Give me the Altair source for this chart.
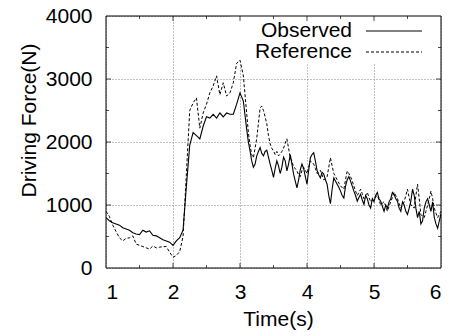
import altair as alt
import pandas as pd

FONT = "Liberation Sans"

time_s = [1.00, 1.05, 1.10, 1.15, 1.20, 1.25, 1.30, 1.35, 1.40, 1.45,
          1.50, 1.55, 1.60, 1.65, 1.70, 1.75, 1.80, 1.85, 1.90, 1.95,
          2.00, 2.05, 2.10, 2.15, 2.20, 2.25, 2.30, 2.35, 2.40, 2.45,
          2.50, 2.55, 2.60, 2.65, 2.70, 2.75, 2.80, 2.85, 2.90, 2.95,
          3.00, 3.05,
          3.100, 3.125, 3.150, 3.175, 3.200, 3.225, 3.250, 3.275, 3.300, 3.325,
          3.350, 3.375, 3.400, 3.425, 3.450, 3.475, 3.500, 3.525, 3.550, 3.575,
          3.600, 3.625, 3.650, 3.675, 3.700, 3.725, 3.750, 3.775, 3.800, 3.825,
          3.850, 3.875, 3.900, 3.925, 3.950, 3.975, 4.000, 4.025, 4.050, 4.075,
          4.100, 4.125, 4.150, 4.175, 4.200, 4.225, 4.250, 4.275, 4.300, 4.325,
          4.350, 4.375, 4.400, 4.425, 4.450, 4.475, 4.500, 4.525, 4.550, 4.575,
          4.600, 4.625, 4.650, 4.675, 4.700, 4.725, 4.750, 4.775, 4.800, 4.825,
          4.850, 4.875, 4.900, 4.925, 4.950, 4.975, 5.000, 5.025, 5.050, 5.075,
          5.100, 5.125, 5.150, 5.175, 5.200, 5.225, 5.250, 5.275, 5.300, 5.325,
          5.350, 5.375, 5.400, 5.425, 5.450, 5.475, 5.500, 5.525, 5.550, 5.575,
          5.600, 5.625, 5.650, 5.675, 5.700, 5.725, 5.750, 5.775, 5.800, 5.825,
          5.850, 5.875, 5.900, 5.925, 5.950, 5.975, 6.000]

observed = [800, 750, 720, 700, 680, 640, 620, 600, 560, 540,
            530, 600, 570, 590, 520, 510, 480, 450, 430, 410,
            360, 430, 480, 600, 1300, 1950, 2150, 2100, 2050, 2250,
            2400, 2380, 2440, 2380, 2460, 2400, 2460, 2440, 2440, 2600,
            2780, 2650,
            2200, 2000, 1860, 1700, 1600, 1650, 1780, 1850, 1910, 1820,
            1780, 1850, 1870, 1760, 1650, 1550, 1440, 1580, 1700, 1620,
            1500, 1600, 1760, 1700, 1540, 1650, 1800, 1650, 1490, 1380,
            1270, 1400, 1560, 1650, 1580, 1450, 1330, 1550, 1750, 1800,
            1830, 1700, 1550, 1480, 1430, 1520, 1490, 1400, 1330, 1150,
            1020, 1250, 1430, 1380, 1330, 1280, 1220, 1150, 1110, 1300,
            1400, 1450, 1380, 1300, 1220, 1150, 1060, 1120, 1170, 1080,
            1010, 1150, 1100, 1000, 950, 1100, 1050, 1150, 1200, 1100,
            1060, 980, 900, 1000, 950, 1050, 1100, 1200, 1170, 1100,
            1060, 950, 900, 1050, 1000, 900, 850, 950, 1060, 1250,
            1150, 950, 800, 900, 700, 750, 950, 1050, 1100, 1000,
            900, 1050, 800, 700, 630, 750, 860]

reference = [900, 820, 680, 580, 480, 430, 470, 480, 510, 380,
             360, 340, 320, 300, 350, 320, 330, 340, 340, 250,
             170, 200, 260, 500, 1500, 2500, 2620, 2700, 2220, 2460,
             2600, 2780, 2890, 3050, 2750, 2940, 2730, 2780, 2940, 3250,
             3300, 3050,
             2450, 2150, 1950, 1800, 1750, 1900, 2060, 2300, 2540, 2570,
             2500, 2400, 2290, 2100, 1970, 1900, 1860, 1800, 1850, 1780,
             1810, 1850, 1900, 1980, 2050, 1900, 1750, 1700, 1600, 1580,
             1540, 1480, 1450, 1550, 1600, 1550, 1500, 1600, 1700, 1680,
             1650, 1580, 1500, 1520, 1550, 1480, 1400, 1420, 1450, 1600,
             1750, 1620, 1500, 1450, 1400, 1350, 1300, 1280, 1250, 1400,
             1540, 1500, 1450, 1380, 1300, 1220, 1150, 1200, 1250, 1180,
             1100, 1150, 1200, 1120, 1050, 1080, 1100, 1130, 1150, 1080,
             1000, 1030, 1050, 980, 900, 980, 1050, 1120, 1200, 1150,
             1100, 1020, 950, 1000, 1050, 1150, 1250, 1120, 1000, 980,
             950, 1150, 1330, 1100, 850, 820, 800, 900, 1000, 1100,
             1220, 1100, 950, 870, 800, 850, 900]

series_names = ["Observed", "Reference"]
x_labels = [1, 2, 3, 4, 5, 6]
y_labels = [0, 1000, 2000, 3000, 4000]
major_x = [2, 3, 4, 5]
minor_x = [1.5, 2.5, 3.5, 4.5, 5.5]
major_y = [1000, 2000, 3000]
minor_y = [500, 1500, 2500, 3500]
legend_box_x = [2.85, 6.0]
legend_box_y = [3250, 4000]

W, H = 335, 252

rows = []
for t, o, r in zip(time_s, observed, reference):
    rows.append({"t": t, "force": o, "series": series_names[0]})
    rows.append({"t": t, "force": r, "series": series_names[1]})
df = pd.DataFrame(rows)

xs = alt.Scale(domain=[1, 6], nice=False, zero=False)
ys = alt.Scale(domain=[0, 4000], nice=False)

x_axis = alt.Axis(values=x_labels, title="Time(s)", grid=True, ticks=False, domain=False,
                  labelPadding=13, format="d", titleX=172, titleY=51,
                  titleBaseline="middle", titleAlign="center", titleFontWeight="normal")
y_axis = alt.Axis(values=y_labels, title="Driving Force(N)", grid=True, ticks=False, domain=False,
                  labelPadding=14, format="d", titleX=-77, titleY=104,
                  titleBaseline="middle", titleAlign="center", titleFontWeight="normal")

grid_base = alt.Chart(df).mark_line(opacity=0).encode(
    x=alt.X("t:Q", scale=xs, axis=x_axis),
    y=alt.Y("force:Q", scale=ys, axis=y_axis),
)

box = alt.Chart(pd.DataFrame({"x": [legend_box_x[0]], "x2": [legend_box_x[1]],
                              "y": [legend_box_y[0]], "y2": [legend_box_y[1]]})).mark_rect(
    color="white").encode(
    x=alt.X("x:Q", scale=xs), x2="x2:Q", y=alt.Y("y:Q", scale=ys), y2="y2:Q")

obs_line = alt.Chart(df[df.series == "Observed"]).mark_line(
    color="black", strokeWidth=1.1, clip=True).encode(
    x=alt.X("t:Q", scale=xs), y=alt.Y("force:Q", scale=ys))

ref_line = alt.Chart(df[df.series == "Reference"]).mark_line(
    color="black", strokeWidth=1, strokeDash=[3, 2], clip=True).encode(
    x=alt.X("t:Q", scale=xs), y=alt.Y("force:Q", scale=ys))

def xticks(vals, size, ypos):
    return alt.Chart(pd.DataFrame({"v": vals})).mark_tick(
        color="black", thickness=1, size=size, clip=True, orient="vertical").encode(
        x=alt.X("v:Q", scale=xs), y=alt.value(ypos))

def yticks(vals, size, xpos):
    return alt.Chart(pd.DataFrame({"v": vals})).mark_tick(
        color="black", thickness=1, size=size, clip=True, orient="horizontal").encode(
        y=alt.Y("v:Q", scale=ys), x=alt.value(xpos))

ticks = [xticks(major_x, 10, H), xticks(minor_x, 6, H), xticks(major_x, 10, 0), xticks(minor_x, 6, 0),
         yticks(major_y, 10, 0), yticks(minor_y, 6, 0), yticks(major_y, 10, W), yticks(minor_y, 6, W)]

frame = alt.Chart(pd.DataFrame({"a": [0]})).mark_rect(
    filled=False, stroke="black", strokeWidth=1).encode(
    x=alt.value(0), x2=alt.value(W), y=alt.value(0), y2=alt.value(H))

def legend_entry(label, ypix, dash):
    d = pd.DataFrame({"label": [label]})
    txt = alt.Chart(d).mark_text(align="right", baseline="middle", font=FONT, fontSize=21,
                                 color="black").encode(
        x=alt.value(246), y=alt.value(ypix), text="label:N")
    kw = dict(color="black", strokeWidth=1)
    if dash:
        kw["strokeDash"] = dash
    ln = alt.Chart(d).mark_rule(**kw).encode(x=alt.value(260), x2=alt.value(316), y=alt.value(ypix))
    return [txt, ln]

legend = legend_entry("Observed", 15, None) + legend_entry("Reference", 36, [3, 2])

chart = alt.layer(grid_base, box, ref_line, obs_line, *ticks, frame, *legend).properties(
    width=W, height=H,
    autosize=alt.AutoSizeParams(type="none"),
    padding={"left": 98, "top": 8, "right": 6, "bottom": 65},
).configure_view(stroke=None).configure_axis(
    labelFont=FONT, titleFont=FONT, labelFontSize=21, titleFontSize=21,
    labelColor="black", titleColor="black", titleFontWeight="normal",
    gridColor="#808080", gridDash=[1, 2], gridWidth=1, gridOpacity=1,
)

chart.save("out.html", embed_options={"renderer": "svg", "actions": False})
